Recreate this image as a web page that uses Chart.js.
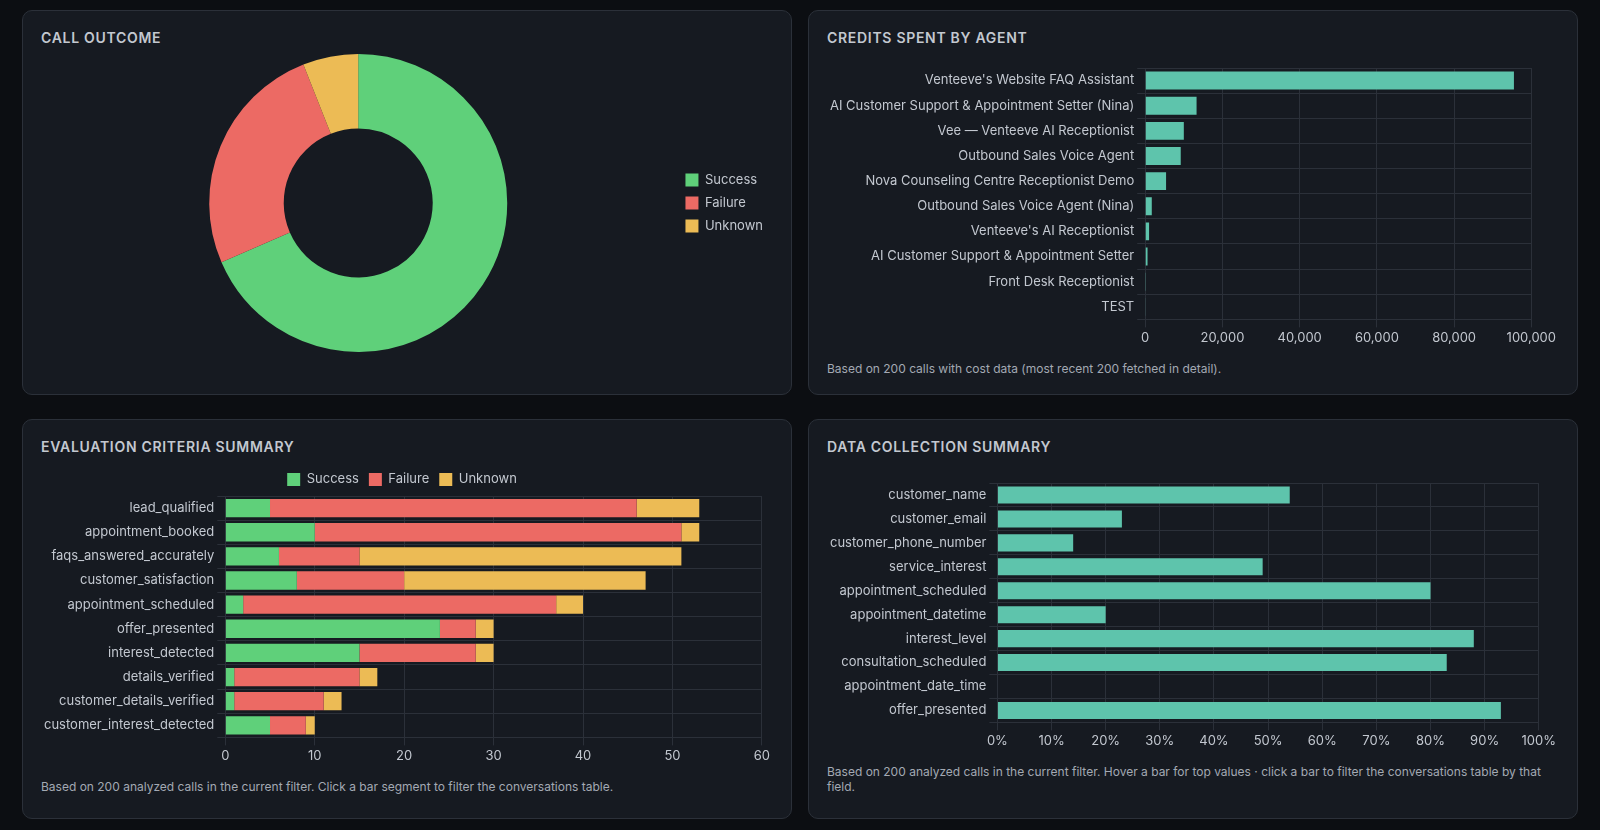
<!DOCTYPE html>
<html><head><meta charset="utf-8">
<script src="https://cdn.jsdelivr.net/npm/chart.js@4.4.0/dist/chart.umd.min.js"></script>
<style>
html,body{margin:0;padding:0;background:#0c0e12;font-family:Inter,"Noto Sans",sans-serif;}
.grid{display:grid;grid-template-columns:1fr 1fr;grid-template-rows:385px 400px;gap:24px 16px;padding:10px 22px;box-sizing:border-box;width:1600px;height:830px;}
.panel{background:#161a21;border:1px solid #2b3039;border-radius:10px;padding:18px 18px 18px;box-sizing:border-box;display:flex;flex-direction:column;}
.b{padding-bottom:24px;}
.title{color:#c3c8d0;font-weight:600;font-size:14px;letter-spacing:0.7px;margin-bottom:8px;}
.cw{position:relative;flex:1;min-height:0;}
.note{color:#a3a9b3;font-size:12px;margin-top:12px;line-height:15px;}
</style></head><body>
<div class="grid">
<div class="panel"><div class="title">CALL OUTCOME</div><div class="cw"><canvas id="c1"></canvas></div></div>
<div class="panel"><div class="title">CREDITS SPENT BY AGENT</div><div class="cw"><canvas id="c2"></canvas></div><div class="note">Based on 200 calls with cost data (most recent 200 fetched in detail).</div></div>
<div class="panel b"><div class="title">EVALUATION CRITERIA SUMMARY</div><div class="cw"><canvas id="c3"></canvas></div><div class="note">Based on 200 analyzed calls in the current filter. Click a bar segment to filter the conversations table.</div></div>
<div class="panel b"><div class="title">DATA COLLECTION SUMMARY</div><div class="cw"><canvas id="c4"></canvas></div><div class="note">Based on 200 analyzed calls in the current filter. Hover a bar for top values · click a bar to filter the conversations table by that field.</div></div>
</div>
<script>
const outcomeLabels=["Success","Failure","Unknown"];
const outcomeValues=[137,51,12];
const agents=["Venteeve's Website FAQ Assistant","AI Customer Support & Appointment Setter (Nina)","Vee — Venteeve AI Receptionist","Outbound Sales Voice Agent","Nova Counseling Centre Receptionist Demo","Outbound Sales Voice Agent (Nina)","Venteeve's AI Receptionist","AI Customer Support & Appointment Setter","Front Desk Receptionist","TEST"];
const credits=[95500,13300,10000,9200,5400,1700,1000,600,200,100];
const criteria=["lead_qualified","appointment_booked","faqs_answered_accurately","customer_satisfaction","appointment_scheduled","offer_presented","interest_detected","details_verified","customer_details_verified","customer_interest_detected"];
const evalSuccess=[5,10,6,8,2,24,15,1,1,5];
const evalFailure=[41,41,9,12,35,4,13,14,10,4];
const evalUnknown=[7,2,36,27,3,2,2,2,2,1];
const fields=["customer_name","customer_email","customer_phone_number","service_interest","appointment_scheduled","appointment_datetime","interest_level","consultation_scheduled","appointment_date_time","offer_presented"];
const fieldPct=[54,23,14,49,80,20,88,83,0,93];

const G='#5fd07a',R='#ec6a64',Y='#ecbb55',T='#5ec4ac';
Chart.defaults.color='#c3c8d0';
Chart.defaults.font.family='Inter,"Noto Sans",sans-serif';
Chart.defaults.font.size=13;
Chart.defaults.animation=false;
Chart.defaults.maintainAspectRatio=false;
const gridC='#2b3039';
const leg={labels:{boxWidth:13,boxHeight:13,color:'#c3c8d0',font:{size:13}}};

new Chart(c1,{type:'doughnut',data:{labels:outcomeLabels,datasets:[{data:outcomeValues,backgroundColor:[G,R,Y],borderWidth:0}]},
options:{cutout:'50%',layout:{padding:{top:0,bottom:24}},plugins:{legend:{...leg,position:'right'}}}});

const hbar=(ticksX)=>({indexAxis:'y',layout:{padding:{right:20}},plugins:{legend:{display:false}},
 scales:{x:{grid:{color:gridC},border:{color:gridC},ticks:{color:'#c3c8d0',...ticksX}},y:{grid:{color:gridC},border:{color:gridC},ticks:{color:'#c3c8d0'}}}});

new Chart(c2,{type:'bar',data:{labels:agents,datasets:[{data:credits,backgroundColor:T,barPercentage:0.75,categoryPercentage:0.95}]},
options:(()=>{const o=hbar({});o.scales.x.max=100000;o.scales.x.ticks.stepSize=20000;o.layout.padding.right=10;o.layout.padding.top=14;return o;})()});

new Chart(c3,{type:'bar',data:{labels:criteria,datasets:[
 {label:'Success',data:evalSuccess,backgroundColor:G,barPercentage:0.8,categoryPercentage:0.95},
 {label:'Failure',data:evalFailure,backgroundColor:R,barPercentage:0.8,categoryPercentage:0.95},
 {label:'Unknown',data:evalUnknown,backgroundColor:Y,barPercentage:0.8,categoryPercentage:0.95}]},
options:(()=>{const o=hbar({stepSize:10});o.plugins.legend={...leg,display:true,position:'top'};o.scales.x.stacked=true;o.scales.y.stacked=true;o.scales.x.max=60;o.layout.padding.right=10;return o;})()});

new Chart(c4,{type:'bar',data:{labels:fields,datasets:[{data:fieldPct,backgroundColor:T,barPercentage:0.75,categoryPercentage:0.95}]},
options:(()=>{const o=hbar({stepSize:10,callback:v=>v+'%'});o.scales.x.max=100;o.scales.x.min=0;o.layout.padding.top=20;o.layout.padding.right=18;return o;})()});
</script></body></html>
